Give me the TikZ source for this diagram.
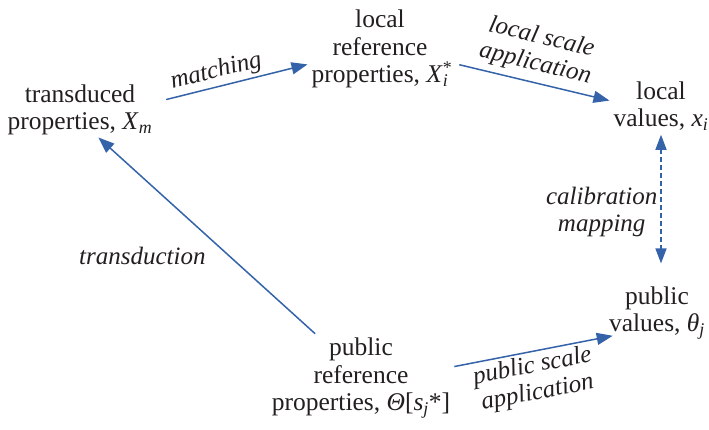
\documentclass[tikz,border=0pt]{standalone}
\usepackage{fontspec}
\setmainfont{Liberation Serif}
\usetikzlibrary{arrows.meta}
\definecolor{flowblue}{RGB}{52,99,170}
\definecolor{inkgrey}{RGB}{35,31,32}
\newcommand{\qsym}[2]{\textit{#1}\textsubscript{\textit{#2}}}
\tikzset{
  quantity/.style={
    align=center,
    text=inkgrey,
    inner sep=4pt,
    font=\fontsize{25.5}{27.5}\selectfont
  },
  action/.style={
    align=center,
    text=inkgrey,
    inner sep=3pt,
    font=\fontsize{25}{27}\selectfont\itshape
  },
  flowarrow/.style={
    draw=flowblue,
    line width=1.5pt,
    -{Triangle[length=16pt,width=12pt]}
  },
  calarrow/.style={
    draw=flowblue,
    line width=1.5pt,
    dash pattern=on 5pt off 3pt,
    {Triangle[length=15pt,width=11pt]}-{Triangle[length=15pt,width=11pt]}
  }
}

\begin{document}
\begin{tikzpicture}[x=1pt,y=1pt]
  \useasboundingbox (0,0) rectangle (709,429);

  % Properties: transduced, local reference and public reference.
  \node[quantity] (transduced) at (80,319) {transduced\\properties, \qsym{X}{m}};
  \node[quantity] (localref) at (380,380)
    {local\\reference\\properties, \textit{X}\rlap{\textsuperscript{*}}\textsubscript{\textit{i}}};
  \node[quantity] (publicref) at (361,51)
    {public\\reference\\properties, \textit{Θ}[\qsym{s}{j}*]};

  % Values on the local and on the public scale.
  \node[quantity] (localval) at (661,323) {local\\values, \qsym{x}{i}};
  \node[quantity] (publicval) at (657,116) {public\\values, \qsym{θ}{j}};

  % Operations between them.
  \draw[flowarrow,shorten <=10pt] (transduced.6) -- (localref.192)
    node[action,pos=0.42,above,sloped] {matching};
  \draw[flowarrow,shorten <=7pt] (localref.-11) -- (localval.174)
    node[action,midway,above=3pt,sloped] {local scale\\application};
  \draw[calarrow,shorten >=19pt] (localval.south) -- (localval.south |- publicval.north)
    node[action,pos=0.52,left] {calibration\\mapping};
  \draw[flowarrow,shorten >=-3pt] (publicref.136) -- (transduced.-55)
    node[action,pos=0.4,left=20pt] {transduction};
  \draw[flowarrow,shorten >=-8pt] (publicref.7) -- (publicval.205)
    node[action,midway,below,sloped] {public scale\\application};

\end{tikzpicture}
\end{document}
